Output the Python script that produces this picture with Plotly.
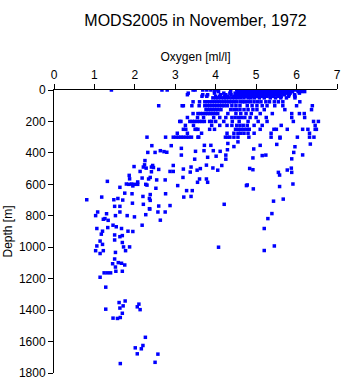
import plotly.graph_objects as go

# ---- standard-level observations (depth in m, oxygen in ml/l) ----
level_depths = [0, 10, 20, 30, 40, 50, 75, 100, 125, 150, 175, 200, 225, 250, 275, 300]

ox_0 = [1.42, 2.67, 2.80, 3.44, 3.49, 3.68, 3.78, 3.88, 4.05, 4.52, 4.58, 4.63, 4.69, 4.74, 4.80,
        4.86, 4.91, 4.97, 5.02, 5.08, 5.14, 5.19, 5.25, 5.31, 5.36, 5.42, 5.47, 5.53, 5.59, 5.64,
        5.70, 5.75, 5.81, 5.86, 5.97, 6.03, 6.10, 6.16]
ox_10 = [3.97, 4.07, 4.37, 4.55, 4.61, 4.66, 4.72, 4.78, 4.83, 4.89, 4.95, 5.00, 5.06, 5.12, 5.17,
         5.23, 5.29, 5.34, 5.40, 5.46, 5.51, 5.57, 5.63, 5.68, 5.74, 5.80, 5.85, 5.90, 6.04, 6.12, 6.20]
ox_20 = [3.32, 3.97, 4.20, 4.35, 4.48, 4.54, 4.60, 4.65, 4.71, 4.77, 4.82, 4.88, 4.94, 4.99, 5.05,
         5.11, 5.16, 5.22, 5.28, 5.33, 5.39, 5.45, 5.50, 5.56, 5.62, 5.67, 5.73, 5.79, 5.84, 6.07]
ox_30 = [3.30, 3.68, 3.80, 4.12, 4.25, 4.38, 4.50, 4.56, 4.62, 4.68, 4.73, 4.79, 4.85, 4.90, 4.96,
         5.02, 5.07, 5.13, 5.19, 5.24, 5.30, 5.36, 5.41, 5.47, 5.53, 5.58, 5.70, 5.82, 5.95]
ox_40 = [3.66, 3.78, 4.00, 4.10, 4.22, 4.30, 4.45, 4.52, 4.58, 4.64, 4.70, 4.76, 4.82, 4.88, 4.94,
         5.00, 5.06, 5.12, 5.18, 5.26, 5.34, 5.42, 5.55, 5.62, 5.80, 5.96]
ox_50 = [3.93, 4.00, 4.06, 4.13, 4.20, 4.26, 4.33, 4.40, 4.47, 4.54, 4.62, 4.70, 4.80, 4.87, 4.96,
         5.08, 5.20, 5.35, 5.48, 5.61, 5.75, 5.96]
ox_75 = [3.44, 3.60, 3.73, 3.79, 3.85, 3.91, 3.97, 4.03, 4.09, 4.15, 4.21, 4.27, 4.33, 4.39, 4.45,
         4.51, 4.60, 4.66, 4.72, 4.78, 4.86, 4.95, 5.04, 5.12, 5.24, 5.33, 5.45, 5.55, 5.66, 6.08]
ox_100 = [2.59, 3.17, 3.20, 3.41, 3.59, 3.73, 3.79, 3.85, 3.91, 3.97, 4.03, 4.09, 4.15, 4.21, 4.29,
          4.40, 4.50, 4.60, 4.78, 4.90, 5.02, 5.15, 5.27, 5.46, 5.66, 6.00, 6.39]
ox_125 = [3.76, 3.82, 3.88, 3.94, 4.00, 4.06, 4.13, 4.37, 4.45, 4.52, 4.60, 4.70, 4.80, 4.92, 5.02,
          5.20, 5.71, 6.37]
ox_150 = [3.44, 3.56, 3.62, 3.68, 3.74, 3.80, 3.86, 3.92, 3.98, 4.05, 4.30, 4.50, 4.62, 4.75, 4.88,
          5.10, 5.40, 5.88, 6.07, 6.19]
ox_175 = [3.30, 3.55, 3.70, 3.95, 4.10, 4.25, 4.40, 4.48, 4.56, 4.64, 4.72, 4.85, 5.00, 5.25, 5.88, 6.20]
ox_200 = [3.11, 3.14, 3.36, 3.42, 3.48, 3.54, 3.60, 3.66, 3.72, 3.85, 3.90, 4.00, 4.20, 4.41, 4.58,
          4.80, 5.05, 5.27, 5.92, 6.42, 6.54]
ox_225 = [3.25, 3.45, 3.90, 4.10, 4.28, 4.40, 4.52, 4.60, 4.68, 4.78, 4.95, 5.15, 5.62, 6.46]
ox_250 = [3.20, 3.26, 3.49, 3.52, 3.56, 3.85, 3.97, 4.49, 4.56, 4.63, 4.70, 4.77, 4.83, 5.10, 5.44,
          5.50, 5.77, 6.15, 6.28, 6.46, 6.49]
ox_275 = [3.05, 3.30, 3.65, 4.28, 4.45, 4.55, 4.62, 4.70, 4.80, 4.95, 5.37, 6.32]
ox_300 = [2.30, 2.76, 2.95, 3.02, 3.08, 3.14, 3.20, 3.27, 3.33, 3.40, 3.56, 3.58, 4.24, 4.29, 4.35,
          4.45, 4.55, 4.82, 5.37, 5.59, 6.02, 6.32, 6.43]

level_oxygen = [ox_0, ox_10, ox_20, ox_30, ox_40, ox_50, ox_75, ox_100, ox_125, ox_150,
                ox_175, ox_200, ox_225, ox_250, ox_275, ox_300]

# ---- deeper / individual observations ----
deep_oxygen = [
    2.42, 2.90, 3.15, 2.63, 2.72, 2.79, 2.50, 3.50, 3.71, 3.94,
    4.11, 4.29, 4.01, 3.80, 4.25, 4.25, 2.44, 2.95, 3.15, 3.48,
    3.72, 3.88, 4.30, 4.45, 4.55, 5.10, 5.51, 5.59, 6.34, 5.96,
    6.15, 5.93, 4.94, 5.15, 4.92, 5.88, 5.24, 2.32, 2.25, 2.24,
    1.98, 2.21, 2.28, 2.41, 2.41, 2.13, 1.86, 1.87, 2.18, 2.34,
    1.32, 1.79, 1.85, 1.92, 1.99, 2.07, 2.30, 2.46, 2.59, 2.87,
    2.95, 3.20, 3.39, 3.37, 3.54, 3.62, 3.77, 3.93, 4.05, 4.15,
    2.38, 2.54, 2.75, 3.19, 3.60, 3.77, 3.80, 3.55, 2.52, 3.06,
    3.28, 3.42, 2.38, 2.76, 3.21, 3.39, 2.38, 2.59, 2.87, 2.37,
    2.57, 2.75, 2.63, 4.21, 4.76, 4.07, 4.84, 4.92, 5.55, 5.77,
    5.87, 5.88, 5.58, 4.78, 4.93, 5.58, 5.91, 5.43, 5.67, 5.39,
    5.29, 5.20, 5.45, 5.20, 0.81, 1.18, 1.48, 1.58, 1.63, 1.75,
    1.93, 1.95, 2.07, 2.27, 2.20, 2.36, 1.70, 1.50, 1.63, 1.94,
    2.21, 2.36, 1.08, 1.30, 1.03, 1.52, 1.63, 1.81, 1.99, 2.27,
    1.26, 1.34, 1.22, 1.54, 1.06, 1.33, 1.46, 1.67, 1.83, 1.95,
    2.18, 1.20, 1.17, 1.50, 1.63, 1.69, 1.14, 1.20, 1.50, 1.69,
    1.06, 1.72, 1.87, 1.77, 1.03, 1.22, 1.14, 1.52, 1.50, 1.45,
    1.59, 1.67, 1.75, 1.52, 1.53, 1.69, 1.24, 1.32, 1.40, 1.14,
    1.28, 1.28, 1.61, 1.76, 1.71, 1.63, 1.69, 2.10, 2.06, 2.13,
    1.46, 1.57, 1.64, 2.26, 2.20, 2.01, 2.16, 2.06, 1.64, 2.57,
    2.50,
]
deep_depth = [
    354, 354, 371, 386, 392, 396, 397, 390, 386, 386,
    390, 380, 421, 428, 414, 440, 480, 480, 414, 440,
    352, 352, 340, 360, 330, 352, 346, 306, 344, 361,
    413, 397, 375, 417, 432, 438, 414, 397, 449, 476,
    487, 490, 497, 490, 520, 518, 543, 565, 560, 566,
    581, 598, 600, 598, 600, 585, 605, 493, 505, 518,
    518, 503, 490, 522, 510, 500, 478, 496, 510, 480,
    556, 572, 572, 556, 566, 566, 587, 587, 625, 608,
    640, 640, 665, 660, 681, 677, 702, 738, 735, 757,
    776, 776, 828, 727, 608, 1000, 499, 507, 524, 509,
    497, 524, 541, 604, 629, 614, 598, 707, 694, 786,
    818, 881, 992, 1021, 698, 681, 698, 690, 619, 656,
    660, 610, 600, 600, 677, 690, 700, 740, 740, 720,
    727, 755, 776, 787, 799, 799, 776, 799, 807, 793,
    818, 829, 822, 870, 881, 875, 860, 881, 898, 900,
    860, 898, 917, 922, 933, 926, 961, 982, 954, 970,
    992, 998, 998, 1022, 1022, 1022, 1040, 1033, 1075, 1105,
    1098, 1102, 1113, 1126, 1153, 1153, 1163, 1163, 1163, 1191,
    1254, 1394, 1352, 1342, 1373, 1387, 1420, 1362, 1379, 1397,
    1451, 1453, 1447, 1573, 1625, 1640, 1646, 1678, 1740, 1680,
    1732,
]

x_ticks = [0, 1, 2, 3, 4, 5, 6, 7]
y_ticks = [0, 200, 400, 600, 800, 1000, 1200, 1400, 1600, 1800]

# ---- assemble ----
oxygen = []
depth = []
for d, vals in zip(level_depths, level_oxygen):
    for v in vals:
        oxygen.append(v)
        depth.append(d)
oxygen += deep_oxygen
depth += deep_depth

fig = go.Figure()
fig.add_trace(go.Scatter(
    x=oxygen, y=depth, mode="markers",
    marker=dict(symbol="square", size=3.5, color="#0000ff", line=dict(width=0)),
    hoverinfo="x+y", showlegend=False,
))

font = "Liberation Sans, Arial, sans-serif"
fig.update_layout(
    width=345, height=384,
    margin=dict(l=54, r=4, t=90, b=8),
    paper_bgcolor="white", plot_bgcolor="white",
    font=dict(family=font, size=12, color="black"),
    title=dict(text="MODS2005 in November, 1972", x=0.5, xref="paper",
               y=1 - 20 / 384, yref="container", yanchor="middle", xanchor="center",
               font=dict(size=16, color="black", family=font)),
    xaxis=dict(
        side="top", range=[0, 7], tickvals=x_ticks, ticktext=[str(t) for t in x_ticks],
        showline=True, linecolor="black", linewidth=1, mirror=False,
        ticks="outside", ticklen=5, tickcolor="black", showgrid=False, zeroline=False,
        title=dict(text="Oxygen [ml/l]", standoff=4, font=dict(size=12)),
        tickfont=dict(size=12),
    ),
    yaxis=dict(
        range=[1800, 0], tickvals=y_ticks, ticktext=[str(t) for t in y_ticks],
        showline=True, linecolor="black", linewidth=1, mirror=False,
        ticks="outside", ticklen=5, tickcolor="black", showgrid=False, zeroline=False,
        title=dict(text="Depth [m]", standoff=3, font=dict(size=12)),
        tickfont=dict(size=12),
    ),
)

fig.write_html("out.html")
